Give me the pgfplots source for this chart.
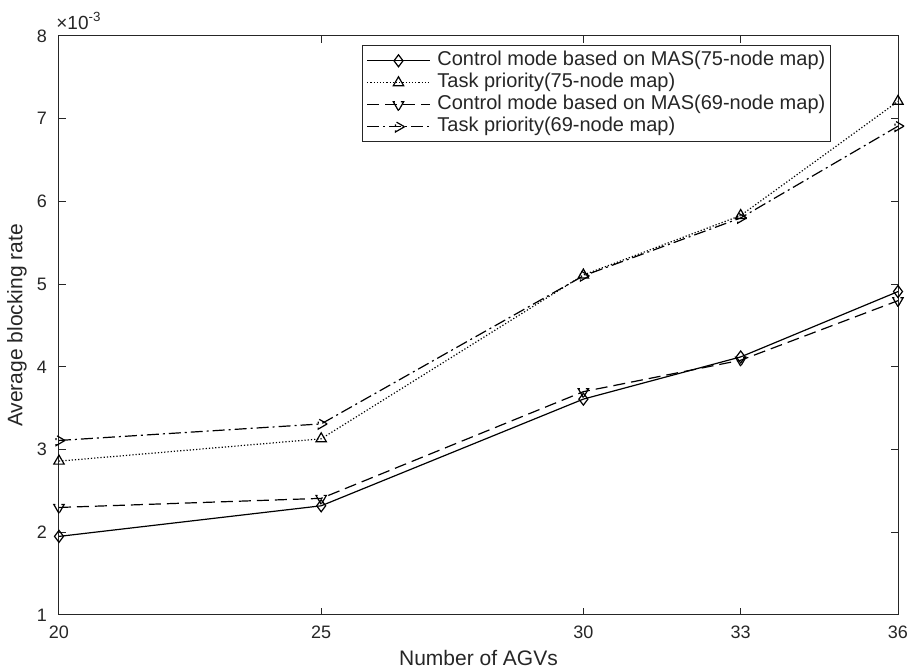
\documentclass[border=0pt]{standalone}
\usepackage{fontspec}
\setmainfont{Liberation Sans}
\usepackage{pgfplots}
\pgfplotsset{compat=1.18}
\definecolor{axgray}{RGB}{38,38,38}

\begin{document}
\begin{tikzpicture}
\begin{axis}[
    scale only axis,
    width=419.5pt, height=289.5pt,
    xmin=20, xmax=36, ymin=0.001, ymax=0.008,
    xtick={20,25,30,33,36},
    ytick={0.001,0.002,0.003,0.004,0.005,0.006,0.007,0.008},
    scaled y ticks=base 10:3,
    ytick scale label code/.code={×10\textsuperscript{#1}},
    every y tick scale label/.style={at={(rel axis cs:0,1)}, anchor=south west, inner sep=1pt, yshift=2pt, font=\fontsize{9.5}{10}\selectfont, text=axgray},
    /pgf/number format/assume math mode=true,
    tick align=inside,
    major tick length=3.5pt,
    axis line style={axgray, line width=0.5pt},
    tick style={axgray, line width=0.5pt},
    ticklabel style={font=\fontsize{9}{10}\selectfont, text=axgray},
    xticklabel style={yshift=-2pt},
    yticklabel style={xshift=-2.5pt},
    xlabel={Number of AGVs},
    ylabel={Average blocking rate},
    label style={font=\fontsize{10.5}{12}\selectfont, text=axgray},
    xlabel style={at={(axis description cs:0.5,0)}, anchor=center, yshift=-21.5pt},
    ylabel style={at={(axis description cs:0,0.5)}, anchor=center, yshift=21pt},
    legend cell align=left,
    legend style={at={(0.92,0.984)}, anchor=north east, draw=axgray, line width=0.5pt,
        font=\fontsize{10}{11}\selectfont, text=axgray, row sep=0pt, column sep=3pt,
        inner sep=2pt, nodes={inner sep=0.5pt, text height=7.5pt, text depth=2.5pt}},
    legend image code/.code={\draw[mark repeat=2, mark phase=2] plot coordinates {(0cm,0cm) (0.55cm,0cm) (1.1cm,0cm)};},
    every axis plot/.append style={black, line width=0.6pt, mark size=3pt, mark options={solid, fill=white}},
]
\coordinate (bl) at (rel axis cs:0,0);
\coordinate (tr) at (rel axis cs:1,1);

% Control mode based on MAS (75-node map)
\addplot[mark=diamond] coordinates {
(20,0.00195) (25,0.00232) (30,0.00361) (33,0.00412) (36,0.00491)
};
% Task priority (75-node map)
\addplot[densely dotted, mark=triangle] coordinates {
(20,0.00286) (25,0.00313) (30,0.00511) (33,0.00583) (36,0.00721)
};
% Control mode based on MAS (69-node map)
\addplot[dash pattern=on 6pt off 3pt, mark=triangle, mark options={rotate=180}] coordinates {
(20,0.00230) (25,0.00241) (30,0.00370) (33,0.00408) (36,0.00480)
};
% Task priority (69-node map)
\addplot[dash pattern=on 6pt off 2pt on 1pt off 2pt, mark=triangle, mark options={rotate=-90}] coordinates {
(20,0.00311) (25,0.00331) (30,0.00510) (33,0.00580) (36,0.00691)
};
\legend{Control mode based on MAS(75-node map), Task priority(75-node map),
        Control mode based on MAS(69-node map), Task priority(69-node map)}
\end{axis}
\pgfresetboundingbox
\path ([shift={(-29.5pt,-28pt)}]bl) rectangle ([shift={(7pt,18pt)}]tr);
\end{tikzpicture}
\end{document}
